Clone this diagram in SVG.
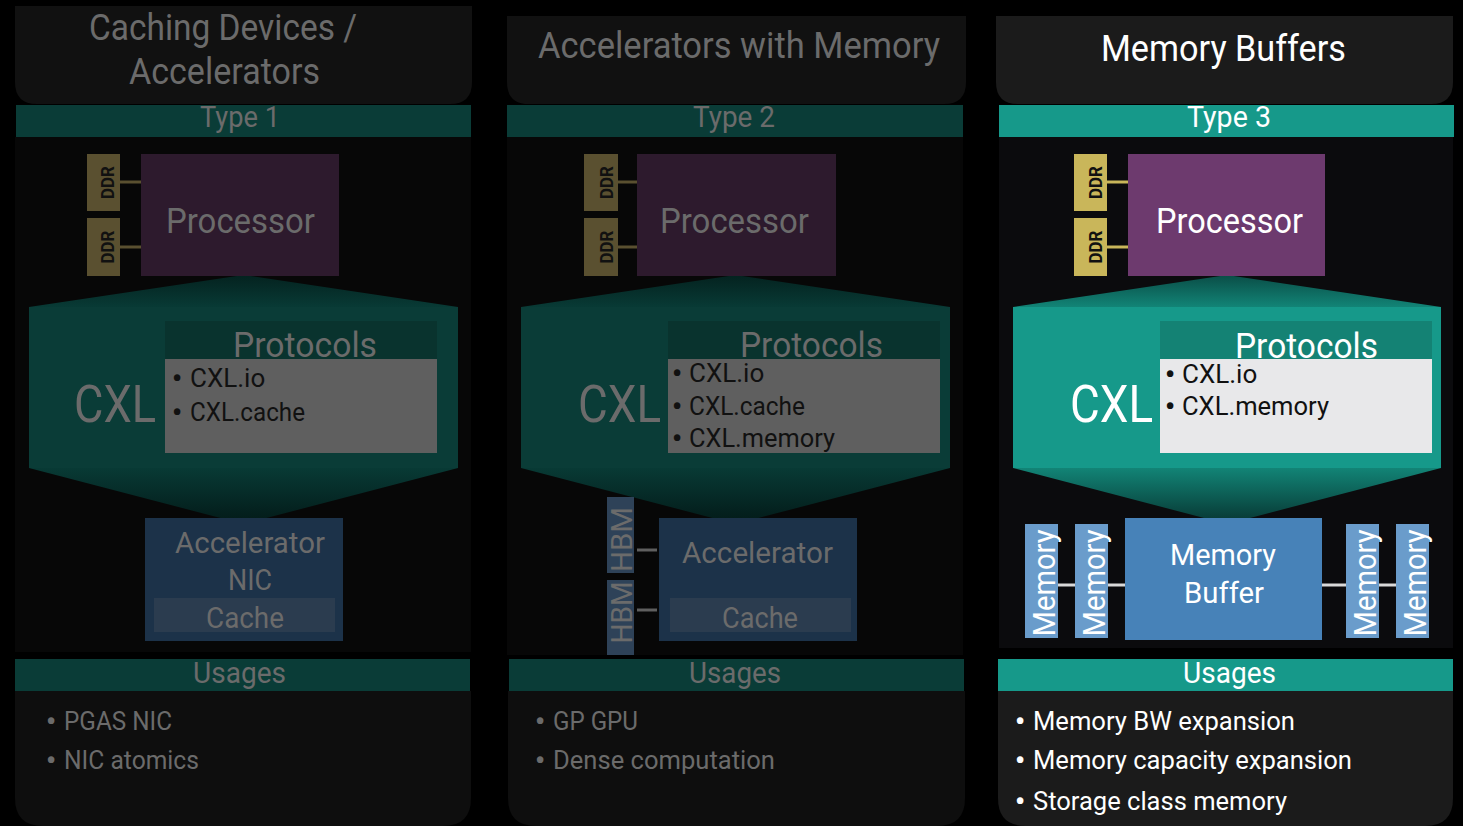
<svg xmlns="http://www.w3.org/2000/svg" width="1463" height="826" viewBox="0 0 1463 826">
<defs>
<style>
text{font-family:Roboto,"Liberation Sans",sans-serif}
.b{font-size:28px;font-weight:700}
.dt{fill:#6b6b6b}
.wt{fill:#ffffff}
.bk{fill:#111111}
.ddr{font-weight:700;font-size:19px}
.hdrD{fill:#111111}.hdrB{fill:#1b1b1b}
.barD{fill:#0a3c37}.barB{fill:#16998a}
.bodyD{fill:#070707}.bodyB{fill:#0b0b0d}
.ddrD{fill:#5a5030}.ddrB{fill:#c9b65a}
.cpuD{fill:#2d1a2d}.cpuB{fill:#6d3a6e}
.phD{fill:#09332e}.phB{fill:#148274}
.pbD{fill:#5f5f5f}.pbB{fill:#e8e8ea}
.acc{fill:#1c3249}.cch{fill:#2b3c4f}.hbm{fill:#2e4258}
.mbuf{fill:#4782b8}.mem{fill:#6a9ccb}
.usD{fill:#0e0e0e}.usB{fill:#1b1b1b}
.lD{stroke:#5a5030;stroke-width:3}.lB{stroke:#c9b65a;stroke-width:3}
.lH{stroke:#5f5f5f;stroke-width:3}.lM{stroke:#d9d9d9;stroke-width:3}
</style>
<linearGradient id="gTopD" x1="0" y1="0" x2="0" y2="1"><stop offset="0" stop-color="#04221f"/><stop offset="1" stop-color="#083a35"/></linearGradient>
<linearGradient id="gBotD" x1="0" y1="0" x2="0" y2="1"><stop offset="0" stop-color="#083a35"/><stop offset="1" stop-color="#031a18"/></linearGradient>
<linearGradient id="gTopB" x1="0" y1="0" x2="0" y2="1"><stop offset="0" stop-color="#0a4d46"/><stop offset="1" stop-color="#128476"/></linearGradient>
<linearGradient id="gBotB" x1="0" y1="0" x2="0" y2="1"><stop offset="0" stop-color="#128476"/><stop offset="1" stop-color="#073531"/></linearGradient>
</defs>
<rect x="0" y="0" width="1463" height="826" fill="#000"/>

<!-- Panel 1 -->
<g id="p1-header">
<path class="hdrD" d="M15,6 H472 V82 Q472,104 450,104 H37 Q15,104 15,82 Z"/>
<text class="dt" x="89" y="40" font-size="37" textLength="268" lengthAdjust="spacingAndGlyphs">Caching Devices /</text>
<text class="dt" x="129" y="84" font-size="37" textLength="191" lengthAdjust="spacingAndGlyphs">Accelerators</text>
</g>
<g id="p1-type">
<rect class="barD" x="16" y="105" width="455" height="32"/>
<text class="dt" x="200" y="127" font-size="30" textLength="80" lengthAdjust="spacingAndGlyphs">Type 1</text>
</g>
<rect id="p1-body" class="bodyD" x="15" y="137" width="456" height="515"/>
<g id="p1-cxl">
<polygon fill="url(#gTopD)" points="29,307 243.5,275 458,307"/>
<rect class="barD" x="29" y="307" width="429" height="161"/>
<polygon fill="url(#gBotD)" points="29,468 243.5,524 458,468"/>
<text class="dt" x="74" y="422" font-size="52" textLength="82" lengthAdjust="spacingAndGlyphs">CXL</text>
</g>
<g id="p1-protocols">
<rect class="phD" x="165" y="321" width="272" height="38"/>
<text class="dt" x="233" y="357" font-size="35" textLength="144" lengthAdjust="spacingAndGlyphs">Protocols</text>
<rect class="pbD" x="165" y="359" width="272" height="94"/>
<text class="bk" font-size="26"><tspan class="b" x="172" y="388">•</tspan><tspan x="190" y="387">CXL.io</tspan></text>
<text class="bk" font-size="26"><tspan class="b" x="172" y="422">•</tspan><tspan x="190" y="421" textLength="115" lengthAdjust="spacingAndGlyphs">CXL.cache</tspan></text>
</g>
<g id="p1-ddr1">
<rect class="ddrD" x="87" y="154" width="33" height="57"/>
<text class="bk ddr" transform="translate(114,182.5) rotate(-90)" text-anchor="middle" textLength="33" lengthAdjust="spacingAndGlyphs">DDR</text>
</g>
<g id="p1-ddr2">
<rect class="ddrD" x="87" y="218" width="33" height="58"/>
<text class="bk ddr" transform="translate(114,247) rotate(-90)" text-anchor="middle" textLength="33" lengthAdjust="spacingAndGlyphs">DDR</text>
</g>
<g id="p1-processor">
<rect class="cpuD" x="141" y="154" width="198" height="122"/>
<text class="dt" x="166" y="233" font-size="35" textLength="149" lengthAdjust="spacingAndGlyphs">Processor</text>
</g>
<g id="p1-accelerator">
<rect class="acc" x="145" y="518" width="198" height="123"/>
<text class="dt" x="175" y="553" font-size="30" textLength="150" lengthAdjust="spacingAndGlyphs">Accelerator</text>
<text class="dt" x="228" y="590" font-size="30" textLength="44" lengthAdjust="spacingAndGlyphs">NIC</text>
<rect class="cch" x="154" y="598" width="181" height="34"/>
<text class="dt" x="206" y="628" font-size="30" textLength="78" lengthAdjust="spacingAndGlyphs">Cache</text>
</g>
<g id="p1-usages">
<rect class="barD" x="15" y="659" width="455" height="32"/>
<text class="dt" x="193" y="683" font-size="30" textLength="93" lengthAdjust="spacingAndGlyphs">Usages</text>
<path class="usD" d="M15,691 H471 V798 Q471,826 443,826 H43 Q15,826 15,798 Z"/>
<text class="dt" font-size="26"><tspan class="b" x="46" y="731">•</tspan><tspan x="64" y="730" textLength="108" lengthAdjust="spacingAndGlyphs">PGAS NIC</tspan></text>
<text class="dt" font-size="26"><tspan class="b" x="46" y="770">•</tspan><tspan x="64" y="769" textLength="135" lengthAdjust="spacingAndGlyphs">NIC atomics</tspan></text>
</g>

<!-- Panel 2 -->
<g id="p2-header">
<path class="hdrD" d="M507,16 H966 V82 Q966,104 944,104 H529 Q507,104 507,82 Z"/>
<text class="dt" x="538" y="58" font-size="37" textLength="402" lengthAdjust="spacingAndGlyphs">Accelerators with Memory</text>
</g>
<g id="p2-type">
<rect class="barD" x="507" y="105" width="456" height="32"/>
<text class="dt" x="693" y="127" font-size="30" textLength="82" lengthAdjust="spacingAndGlyphs">Type 2</text>
</g>
<rect id="p2-body" class="bodyD" x="507" y="137" width="456" height="518"/>
<g id="p2-cxl">
<polygon fill="url(#gTopD)" points="521,307 735.5,275 950,307"/>
<rect class="barD" x="521" y="307" width="429" height="161"/>
<polygon fill="url(#gBotD)" points="521,468 735.5,524 950,468"/>
<text class="dt" x="578" y="422" font-size="52" textLength="83" lengthAdjust="spacingAndGlyphs">CXL</text>
</g>
<g id="p2-protocols">
<rect class="phD" x="668" y="321" width="272" height="38"/>
<text class="dt" x="740" y="357" font-size="35" textLength="143" lengthAdjust="spacingAndGlyphs">Protocols</text>
<rect class="pbD" x="668" y="359" width="272" height="94"/>
<text class="bk" font-size="26"><tspan class="b" x="672" y="383">•</tspan><tspan x="689" y="382">CXL.io</tspan></text>
<text class="bk" font-size="26"><tspan class="b" x="672" y="416">•</tspan><tspan x="689" y="415" textLength="116" lengthAdjust="spacingAndGlyphs">CXL.cache</tspan></text>
<text class="bk" font-size="26"><tspan class="b" x="672" y="448">•</tspan><tspan x="689" y="447" textLength="146" lengthAdjust="spacingAndGlyphs">CXL.memory</tspan></text>
</g>
<g id="p2-ddr1">
<rect class="ddrD" x="584" y="154" width="34" height="57"/>
<text class="bk ddr" transform="translate(613,182.5) rotate(-90)" text-anchor="middle" textLength="33" lengthAdjust="spacingAndGlyphs">DDR</text>
</g>
<g id="p2-ddr2">
<rect class="ddrD" x="584" y="218" width="34" height="58"/>
<text class="bk ddr" transform="translate(613,247) rotate(-90)" text-anchor="middle" textLength="33" lengthAdjust="spacingAndGlyphs">DDR</text>
</g>
<g id="p2-processor">
<rect class="cpuD" x="637" y="154" width="199" height="122"/>
<text class="dt" x="660" y="233" font-size="35" textLength="149" lengthAdjust="spacingAndGlyphs">Processor</text>
</g>
<g id="p2-hbm1">
<rect class="hbm" x="607" y="497" width="27" height="76"/>
<text class="dt" transform="translate(632,539.5) rotate(-90)" text-anchor="middle" font-size="29" textLength="65" lengthAdjust="spacingAndGlyphs">HBM</text>
</g>
<g id="p2-hbm2">
<rect class="hbm" x="607" y="580" width="27" height="75"/>
<text class="dt" transform="translate(632,612.5) rotate(-90)" text-anchor="middle" font-size="29" textLength="62" lengthAdjust="spacingAndGlyphs">HBM</text>
</g>
<g id="p2-accelerator">
<rect class="acc" x="659" y="518" width="198" height="123"/>
<text class="dt" x="682" y="563" font-size="30" textLength="151" lengthAdjust="spacingAndGlyphs">Accelerator</text>
<rect class="cch" x="670" y="598" width="181" height="34"/>
<text class="dt" x="722" y="628" font-size="30" textLength="76" lengthAdjust="spacingAndGlyphs">Cache</text>
</g>
<g id="p2-usages">
<rect class="barD" x="509" y="659" width="455" height="32"/>
<text class="dt" x="689" y="683" font-size="30" textLength="92" lengthAdjust="spacingAndGlyphs">Usages</text>
<path class="usD" d="M508,691 H965 V798 Q965,826 937,826 H536 Q508,826 508,798 Z"/>
<text class="dt" font-size="26"><tspan class="b" x="535" y="731">•</tspan><tspan x="553" y="730" textLength="85" lengthAdjust="spacingAndGlyphs">GP GPU</tspan></text>
<text class="dt" font-size="26"><tspan class="b" x="535" y="770">•</tspan><tspan x="553" y="769" textLength="222" lengthAdjust="spacingAndGlyphs">Dense computation</tspan></text>
</g>

<!-- Panel 3 -->
<g id="p3-header">
<path class="hdrB" d="M996,16 H1453 V82 Q1453,104 1431,104 H1018 Q996,104 996,82 Z"/>
<text class="wt" x="1101" y="61" font-size="37" textLength="245" lengthAdjust="spacingAndGlyphs">Memory Buffers</text>
</g>
<g id="p3-type">
<rect class="barB" x="999" y="105" width="455" height="32"/>
<text class="wt" x="1187" y="127" font-size="30" textLength="84" lengthAdjust="spacingAndGlyphs">Type 3</text>
</g>
<rect id="p3-body" class="bodyB" x="999" y="137" width="454" height="511"/>
<g id="p3-cxl">
<polygon fill="url(#gTopB)" points="1013,307 1227,275 1441,307"/>
<rect class="barB" x="1013" y="307" width="428" height="161"/>
<polygon fill="url(#gBotB)" points="1013,468 1227,524 1441,468"/>
<text class="wt" x="1070" y="422" font-size="52" textLength="83" lengthAdjust="spacingAndGlyphs">CXL</text>
</g>
<g id="p3-protocols">
<rect class="phB" x="1160" y="321" width="272" height="38"/>
<text class="wt" x="1235" y="358" font-size="35" textLength="143" lengthAdjust="spacingAndGlyphs">Protocols</text>
<rect class="pbB" x="1160" y="359" width="272" height="94"/>
<text class="bk" font-size="26"><tspan class="b" x="1165" y="384">•</tspan><tspan x="1182" y="383">CXL.io</tspan></text>
<text class="bk" font-size="26"><tspan class="b" x="1165" y="416">•</tspan><tspan x="1182" y="415" textLength="147" lengthAdjust="spacingAndGlyphs">CXL.memory</tspan></text>
</g>
<g id="p3-ddr1">
<rect class="ddrB" x="1074" y="154" width="33" height="57"/>
<text class="bk ddr" transform="translate(1102,182.5) rotate(-90)" text-anchor="middle" textLength="33" lengthAdjust="spacingAndGlyphs">DDR</text>
</g>
<g id="p3-ddr2">
<rect class="ddrB" x="1074" y="218" width="33" height="58"/>
<text class="bk ddr" transform="translate(1102,247) rotate(-90)" text-anchor="middle" textLength="33" lengthAdjust="spacingAndGlyphs">DDR</text>
</g>
<g id="p3-processor">
<rect class="cpuB" x="1128" y="154" width="197" height="122"/>
<text class="wt" x="1156" y="233" font-size="35" textLength="147" lengthAdjust="spacingAndGlyphs">Processor</text>
</g>
<g id="p3-memory-buffer">
<rect class="mbuf" x="1125" y="518" width="197" height="122"/>
<text class="wt" x="1170" y="565" font-size="30" textLength="106" lengthAdjust="spacingAndGlyphs">Memory</text>
<text class="wt" x="1184" y="603" font-size="30" textLength="80" lengthAdjust="spacingAndGlyphs">Buffer</text>
</g>
<g id="p3-mem1">
<rect class="mem" x="1025" y="524" width="33" height="114"/>
<text class="wt" transform="translate(1055,583) rotate(-90)" text-anchor="middle" font-size="31" textLength="107" lengthAdjust="spacingAndGlyphs">Memory</text>
</g>
<g id="p3-mem2">
<rect class="mem" x="1075" y="524" width="33" height="114"/>
<text class="wt" transform="translate(1105,583) rotate(-90)" text-anchor="middle" font-size="31" textLength="107" lengthAdjust="spacingAndGlyphs">Memory</text>
</g>
<g id="p3-mem3">
<rect class="mem" x="1346" y="524" width="33" height="114"/>
<text class="wt" transform="translate(1376,583) rotate(-90)" text-anchor="middle" font-size="31" textLength="107" lengthAdjust="spacingAndGlyphs">Memory</text>
</g>
<g id="p3-mem4">
<rect class="mem" x="1396" y="524" width="33" height="114"/>
<text class="wt" transform="translate(1426,583) rotate(-90)" text-anchor="middle" font-size="31" textLength="107" lengthAdjust="spacingAndGlyphs">Memory</text>
</g>
<g id="p3-usages">
<rect class="barB" x="998" y="659" width="455" height="32"/>
<text class="wt" x="1183" y="683" font-size="30" textLength="93" lengthAdjust="spacingAndGlyphs">Usages</text>
<path class="usB" d="M998,691 H1453 V798 Q1453,826 1425,826 H1026 Q998,826 998,798 Z"/>
<text class="wt" font-size="26"><tspan class="b" x="1015" y="731">•</tspan><tspan x="1033" y="730" textLength="262" lengthAdjust="spacingAndGlyphs">Memory BW expansion</tspan></text>
<text class="wt" font-size="26"><tspan class="b" x="1015" y="770">•</tspan><tspan x="1033" y="769" textLength="319" lengthAdjust="spacingAndGlyphs">Memory capacity expansion</tspan></text>
<text class="wt" font-size="26"><tspan class="b" x="1015" y="811">•</tspan><tspan x="1033" y="810" textLength="254" lengthAdjust="spacingAndGlyphs">Storage class memory</tspan></text>
</g>

<g id="connectors" fill="none">
<line class="lD" x1="120" y1="182" x2="141" y2="182"/>
<line class="lD" x1="120" y1="247" x2="141" y2="247"/>
<line class="lD" x1="618" y1="182" x2="637" y2="182"/>
<line class="lD" x1="618" y1="247" x2="637" y2="247"/>
<line class="lH" x1="637" y1="550" x2="657" y2="550"/>
<line class="lH" x1="637" y1="610" x2="657" y2="610"/>
<line class="lB" x1="1107" y1="182" x2="1128" y2="182"/>
<line class="lB" x1="1107" y1="247" x2="1128" y2="247"/>
<line class="lM" x1="1058" y1="585" x2="1075" y2="585"/>
<line class="lM" x1="1108" y1="585" x2="1125" y2="585"/>
<line class="lM" x1="1322" y1="585" x2="1346" y2="585"/>
<line class="lM" x1="1379" y1="585" x2="1396" y2="585"/>
</g>
</svg>
